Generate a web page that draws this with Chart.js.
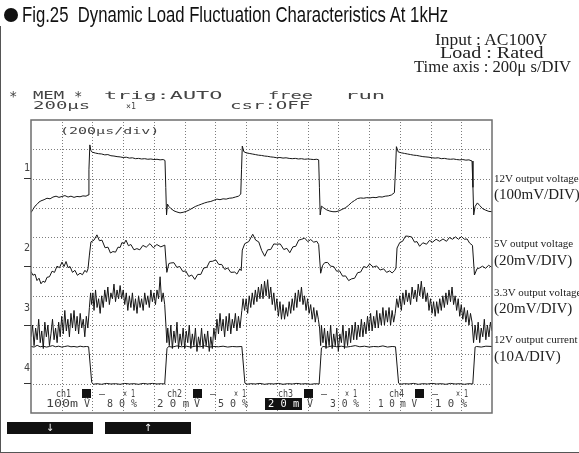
<!DOCTYPE html>
<html><head><meta charset="utf-8">
<script src="https://cdn.jsdelivr.net/npm/chart.js@4.4.1/dist/chart.umd.min.js"></script>
<style>
html,body{margin:0;padding:0;background:#fff;}
#wrap{position:relative;width:579px;height:453px;overflow:hidden;background:#fff;}
#c{position:absolute;left:0;top:0;}
.t{position:absolute;white-space:pre;line-height:1;transform-origin:0 50%;}
.mono{font-family:"DejaVu Sans Mono",monospace;color:#444;}
.serif{font-family:"Liberation Serif","DejaVu Serif",serif;color:#222;}
.sans{font-family:"Liberation Sans",Arial,sans-serif;color:#111;}
.bar{position:absolute;background:#111;}
.arrow{position:absolute;left:0;right:0;top:0;text-align:center;color:#fff;font-family:"DejaVu Sans",sans-serif;font-size:10px;line-height:12px;transform:rotate(0.01deg);opacity:0.99;}
</style></head><body>
<div id="wrap">
<canvas id="c" width="579" height="453"></canvas>
</div>
<script>
// ---- data (time in microseconds, amplitude in screen divisions) ----
const timeTicks = [0,200,400,600,800,1000,1200,1400,1600,1800,2000,2200,2400,2600,2800,3000];
const divTicks = [0,1,2,3,4,5,6,7,8,9,10];
const channelNames = ["12V output voltage","5V output voltage","3.3V output voltage","12V output current"];
const channelScales = ["(100mV/DIV)","(20mV/DIV)","(20mV/DIV)","(10A/DIV)"];
const groundLevels = [8,5,3,1];

const ch1Points = [[0,6.84],[13,6.95],[26,7.06],[39,7.12],[52,7.20],[65,7.24],[85,7.28],[104,7.33],[124,7.31],[143,7.37],[163,7.40],[182,7.36],[202,7.39],[221,7.42],[241,7.37],[260,7.40],[280,7.36],[299,7.39],[319,7.38],[338,7.41],[358,7.40],[371,7.44],[377,8.30],[383,9.15],[390,8.95],[400,8.90],[420,8.87],[440,8.85],[460,8.84],[480,8.81],[500,8.82],[520,8.78],[540,8.77],[560,8.75],[580,8.74],[600,8.72],[620,8.73],[640,8.70],[660,8.71],[680,8.68],[700,8.69],[720,8.67],[740,8.68],[760,8.66],[780,8.67],[800,8.65],[820,8.66],[840,8.64],[860,8.65],[872,8.62],[877,7.70],[882,6.76],[888,7.13],[897,7.05],[910,6.98],[930,6.90],[950,6.86],[970,6.83],[990,6.85],[1010,6.88],[1030,6.93],[1050,6.99],[1070,7.05],[1090,7.09],[1110,7.13],[1130,7.17],[1150,7.20],[1170,7.22],[1190,7.26],[1210,7.30],[1230,7.28],[1250,7.31],[1270,7.30],[1290,7.33],[1310,7.34],[1330,7.37],[1350,7.40],[1365,7.47],[1370,8.30],[1375,9.11],[1385,8.92],[1400,8.88],[1420,8.86],[1440,8.84],[1460,8.82],[1480,8.80],[1500,8.79],[1520,8.77],[1540,8.76],[1560,8.74],[1580,8.73],[1600,8.71],[1620,8.72],[1640,8.70],[1660,8.71],[1680,8.69],[1700,8.68],[1720,8.69],[1740,8.67],[1760,8.68],[1780,8.66],[1800,8.67],[1820,8.66],[1840,8.65],[1860,8.66],[1872,8.64],[1877,7.70],[1882,6.76],[1890,7.06],[1905,7.00],[1925,6.93],[1945,6.89],[1965,6.87],[1985,6.87],[2005,6.90],[2025,6.95],[2045,7.00],[2065,7.08],[2085,7.18],[2105,7.25],[2125,7.32],[2145,7.34],[2165,7.33],[2185,7.35],[2205,7.34],[2225,7.36],[2245,7.35],[2265,7.38],[2285,7.37],[2305,7.40],[2325,7.41],[2345,7.44],[2365,7.52],[2372,8.30],[2378,9.09],[2390,8.91],[2410,8.88],[2430,8.86],[2450,8.84],[2470,8.82],[2490,8.80],[2510,8.79],[2530,8.77],[2550,8.75],[2570,8.74],[2590,8.73],[2610,8.71],[2630,8.70],[2650,8.71],[2670,8.68],[2690,8.69],[2710,8.67],[2730,8.66],[2750,8.67],[2770,8.65],[2790,8.64],[2810,8.65],[2830,8.63],[2850,8.64],[2870,8.60],[2876,7.70],[2881,6.76],[2890,7.05],[2905,7.17],[2920,7.08],[2940,6.97],[2960,6.92],[2980,6.88],[3000,6.87]];

const ch2Points = [[0,4.83],[13,4.70],[26,4.74],[39,4.52],[52,4.60],[65,4.41],[78,4.50],[91,4.46],[104,4.63],[120,4.65],[137,4.84],[153,4.80],[169,5.01],[185,4.96],[202,5.15],[215,5.00],[228,5.17],[241,4.96],[254,5.00],[270,4.80],[286,4.87],[302,4.70],[319,4.77],[335,4.72],[351,4.87],[362,4.80],[371,4.92],[380,5.39],[390,5.84],[410,5.90],[429,6.08],[445,5.88],[462,5.90],[482,5.64],[501,5.66],[517,5.46],[533,5.51],[550,5.49],[566,5.66],[580,5.65],[592,5.82],[605,5.77],[618,5.90],[634,5.71],[650,5.75],[670,5.57],[689,5.61],[708,5.57],[728,5.72],[750,5.66],[774,5.78],[796,5.64],[819,5.75],[845,5.67],[871,5.73],[878,5.22],[884,4.80],[897,5.10],[910,5.12],[930,5.13],[949,4.97],[968,5.00],[988,4.83],[1007,4.85],[1027,4.66],[1046,4.71],[1066,4.56],[1085,4.73],[1105,4.73],[1124,4.95],[1144,4.97],[1163,5.17],[1183,5.18],[1202,5.23],[1222,5.07],[1241,5.07],[1261,4.90],[1280,4.95],[1300,4.80],[1326,4.81],[1340,4.74],[1359,4.92],[1368,4.86],[1375,5.56],[1391,5.78],[1417,5.85],[1443,6.10],[1462,5.90],[1482,5.84],[1501,5.55],[1521,5.35],[1540,5.57],[1560,5.58],[1580,5.77],[1599,5.76],[1622,5.77],[1645,5.58],[1665,5.62],[1684,5.47],[1704,5.67],[1723,5.69],[1742,5.90],[1762,5.93],[1781,5.97],[1801,5.85],[1820,5.92],[1840,5.83],[1860,5.86],[1872,5.75],[1885,4.77],[1898,5.04],[1911,5.13],[1930,5.14],[1950,5.01],[1970,5.00],[1989,4.84],[2008,4.85],[2028,4.67],[2047,4.68],[2067,4.52],[2087,4.58],[2106,4.60],[2126,4.79],[2145,4.81],[2165,5.00],[2185,4.96],[2204,5.09],[2227,4.98],[2249,5.02],[2272,4.88],[2295,4.92],[2314,4.80],[2334,4.85],[2350,4.78],[2366,4.86],[2375,4.95],[2382,5.63],[2400,5.82],[2418,5.86],[2438,6.04],[2457,6.03],[2477,6.01],[2496,5.83],[2512,5.85],[2529,5.69],[2550,5.81],[2574,5.76],[2593,5.89],[2613,5.83],[2636,5.93],[2659,5.86],[2681,5.94],[2704,5.86],[2723,5.99],[2743,5.93],[2762,6.01],[2782,5.93],[2801,6.02],[2821,5.93],[2838,5.94],[2854,5.80],[2873,5.72],[2886,4.71],[2902,4.92],[2919,4.95],[2938,5.01],[2958,4.94],[2978,5.04],[2997,4.98]];

const ch3Points = [[0,2.6],[10,3.0],[20,2.3],[30,2.9],[40,2.5],[50,3.2],[60,2.4],[70,2.8],[80,2.2],[90,3.1],[100,2.6],[110,3.0],[120,2.3],[130,2.7],[140,3.2],[150,2.5],[160,2.9],[170,2.4],[180,3.1],[190,2.6],[200,3.3],[210,2.7],[220,3.5],[230,2.8],[240,3.2],[250,2.6],[260,3.4],[270,2.9],[280,3.5],[290,2.8],[300,3.3],[310,2.7],[320,3.4],[330,2.9],[340,3.2],[350,2.6],[360,3.3],[370,2.9],[380,3.6],[388,4.1],[395,3.7],[403,4.1],[410,3.5],[420,4.2],[430,3.6],[440,3.9],[450,3.4],[460,4.0],[470,3.6],[480,4.2],[490,3.8],[500,4.3],[510,3.7],[520,4.1],[530,3.9],[540,4.4],[550,3.8],[560,4.2],[570,3.9],[580,4.35],[590,3.9],[600,4.2],[610,3.7],[620,4.1],[630,3.5],[640,4.0],[650,3.6],[660,4.1],[670,3.5],[680,3.9],[690,3.4],[700,4.0],[710,3.6],[720,3.9],[730,3.5],[740,4.1],[750,3.7],[760,4.0],[770,3.6],[780,4.2],[790,3.8],[800,4.1],[810,3.7],[820,4.2],[830,3.9],[840,4.65],[850,3.8],[860,4.1],[870,3.7],[878,3.0],[884,2.4],[890,2.9],[900,2.3],[910,3.0],[920,2.2],[930,2.8],[940,2.4],[950,3.1],[960,2.2],[970,2.7],[980,2.3],[990,2.9],[1000,2.2],[1010,2.8],[1020,2.4],[1030,3.0],[1040,2.2],[1050,2.7],[1060,2.3],[1070,2.9],[1080,2.1],[1090,2.6],[1100,2.3],[1110,2.9],[1120,2.2],[1130,2.7],[1140,2.3],[1150,2.8],[1160,2.1],[1170,2.6],[1180,2.2],[1190,2.9],[1200,2.5],[1210,3.2],[1220,2.7],[1230,3.4],[1240,2.8],[1250,3.2],[1260,2.6],[1270,3.3],[1280,2.8],[1290,3.4],[1300,2.7],[1310,3.2],[1320,2.9],[1330,3.4],[1340,2.8],[1350,3.3],[1360,2.9],[1372,3.5],[1380,3.9],[1390,3.5],[1400,3.9],[1410,3.4],[1420,4.0],[1430,3.6],[1440,4.1],[1450,3.7],[1460,4.2],[1470,3.8],[1480,4.3],[1490,3.9],[1500,4.4],[1510,3.9],[1520,4.5],[1530,4.0],[1540,4.55],[1550,3.9],[1560,4.3],[1570,3.7],[1580,4.1],[1590,3.5],[1600,3.9],[1610,3.3],[1620,3.8],[1630,3.2],[1640,3.7],[1650,3.2],[1660,3.6],[1670,3.3],[1680,3.8],[1690,3.4],[1700,3.9],[1710,3.5],[1720,4.1],[1730,3.6],[1740,4.2],[1750,3.8],[1760,4.3],[1770,3.7],[1780,4.0],[1790,3.5],[1800,3.9],[1810,3.4],[1820,3.7],[1830,3.2],[1840,3.6],[1850,3.1],[1860,3.5],[1870,3.2],[1878,2.9],[1885,2.3],[1890,3.0],[1900,2.4],[1910,2.9],[1920,2.2],[1930,2.8],[1940,2.3],[1950,3.0],[1960,2.2],[1970,2.7],[1980,2.3],[1990,2.9],[2000,2.1],[2010,2.7],[2020,2.4],[2030,3.0],[2040,2.2],[2050,2.8],[2060,2.3],[2070,2.9],[2080,2.4],[2090,3.0],[2100,2.5],[2110,3.1],[2120,2.5],[2130,3.0],[2140,2.6],[2150,3.2],[2160,2.6],[2170,3.1],[2180,2.7],[2190,3.3],[2200,2.8],[2210,3.4],[2220,2.8],[2230,3.3],[2240,2.9],[2250,3.5],[2260,2.9],[2270,3.4],[2280,3.0],[2290,3.6],[2300,3.0],[2310,3.5],[2320,3.1],[2330,3.6],[2340,3.0],[2350,3.5],[2360,3.1],[2370,3.4],[2380,3.9],[2390,3.6],[2400,4.0],[2410,3.5],[2420,4.1],[2430,3.7],[2440,4.2],[2450,3.8],[2460,4.1],[2470,3.7],[2480,4.3],[2490,3.9],[2500,4.2],[2510,3.8],[2520,4.4],[2530,4.0],[2540,4.5],[2550,3.9],[2560,4.3],[2570,3.8],[2580,4.1],[2590,3.5],[2600,3.9],[2610,3.4],[2620,3.8],[2630,3.3],[2640,3.8],[2650,3.4],[2660,3.9],[2670,3.5],[2680,4.0],[2690,3.6],[2700,4.1],[2710,3.7],[2720,4.2],[2730,3.8],[2740,4.3],[2750,3.7],[2760,4.0],[2770,3.5],[2780,3.9],[2790,3.3],[2800,3.7],[2810,3.2],[2820,3.6],[2830,3.1],[2840,3.5],[2850,3.0],[2860,3.4],[2870,3.1],[2880,2.4],[2890,3.0],[2900,2.5],[2910,3.1],[2920,2.4],[2930,2.9],[2940,2.6],[2950,3.2],[2960,2.5],[2970,3.0],[2980,2.6],[2990,3.1],[3000,2.8]];

const ch4Points = [[0,2.27],[20,2.25],[40,2.31],[60,2.26],[80,2.28],[100,2.25],[120,2.27],[140,2.30],[160,2.26],[180,2.28],[200,2.25],[220,2.27],[240,2.29],[260,2.26],[280,2.27],[300,2.25],[320,2.28],[340,2.26],[360,2.27],[375,2.26],[395,1.05],[405,0.98],[430,1.00],[460,0.98],[490,1.01],[520,0.99],[550,1.00],[580,0.98],[610,1.01],[640,0.99],[670,1.00],[700,0.98],[730,1.01],[760,0.99],[790,1.01],[820,0.99],[850,1.00],[870,0.99],[885,2.20],[895,2.27],[920,2.25],[950,2.29],[980,2.26],[1010,2.28],[1040,2.25],[1070,2.28],[1100,2.26],[1130,2.29],[1160,2.25],[1190,2.27],[1220,2.26],[1250,2.28],[1280,2.25],[1310,2.27],[1340,2.26],[1372,2.27],[1392,1.02],[1402,0.98],[1430,1.00],[1460,0.99],[1490,1.01],[1520,0.98],[1550,1.00],[1580,0.99],[1610,1.01],[1640,0.98],[1670,1.00],[1700,0.99],[1730,1.01],[1760,0.99],[1790,1.00],[1820,0.98],[1850,1.00],[1875,0.99],[1890,2.22],[1900,2.27],[1930,2.25],[1960,2.29],[1990,2.26],[2020,2.28],[2050,2.25],[2080,2.27],[2110,2.30],[2140,2.26],[2170,2.28],[2200,2.25],[2230,2.27],[2260,2.26],[2290,2.29],[2320,2.25],[2350,2.27],[2372,2.26],[2392,1.02],[2402,0.98],[2430,1.00],[2460,0.99],[2490,1.01],[2520,0.98],[2550,1.00],[2580,0.99],[2610,1.01],[2640,0.99],[2670,1.00],[2700,0.98],[2730,1.01],[2760,0.99],[2790,1.00],[2820,0.98],[2850,1.00],[2875,0.99],[2890,2.25],[2900,2.27],[2930,2.25],[2960,2.28],[3000,2.27]];

// ---- chart ----
const toXY = pts => pts.map(p => ({x:p[0], y:p[1]}));
const traceStyle = {borderColor:'#151515', borderWidth:1, pointRadius:0, tension:0, fill:false};

// dotted graticule drawn at the scale tick values, plus the solid screen frame
const graticulePlugin = {
  id:'graticule',
  beforeDatasetsDraw(chart){
    const c = chart.ctx, a = chart.chartArea, xs = chart.scales.x, ys = chart.scales.y;
    c.save();
    c.fillStyle = '#7c7c7c';
    timeTicks.slice(1, -1).forEach(t => {
      const px = Math.round(xs.getPixelForValue(t));
      for (let yy = Math.ceil(a.top) + 2; yy < a.bottom - 1; yy += 3) c.fillRect(px, yy, 1, 1);
    });
    divTicks.slice(1, -1).forEach(v => {
      const py = Math.round(ys.getPixelForValue(v));
      for (let xx = Math.ceil(a.left) + 2; xx < a.right - 1; xx += 3) c.fillRect(xx, py, 1, 1);
    });
    c.restore();
  },
  afterDraw(chart){
    const a = chart.chartArea, c = chart.ctx;
    c.save();
    c.strokeStyle = '#6e6e6e'; c.lineWidth = 1.5;
    c.strokeRect(a.left, a.top, a.right - a.left, a.bottom - a.top);
    c.restore();
  }
};

new Chart(document.getElementById('c'), {
  type:'line',
  data:{datasets:[
    Object.assign({label:channelNames[0], data:toXY(ch1Points)}, traceStyle),
    Object.assign({label:channelNames[1], data:toXY(ch2Points)}, traceStyle),
    Object.assign({label:channelNames[2], data:toXY(ch3Points)}, traceStyle),
    Object.assign({label:channelNames[3], data:toXY(ch4Points)}, traceStyle)
  ]},
  options:{
    responsive:false, animation:false, devicePixelRatio:1,
    layout:{padding:{left:31, top:120, right:87, bottom:40}},
    plugins:{legend:{display:false}, tooltip:{enabled:false}},
    scales:{
      x:{type:'linear', display:false, min:timeTicks[0], max:timeTicks[timeTicks.length-1]},
      y:{type:'linear', display:false, min:divTicks[0], max:divTicks[divTicks.length-1]}
    }
  },
  plugins:[graticulePlugin]
});

// ---- texts ----
const wrap = document.getElementById('wrap');
function addText(txt, x, y, cls, size, w, extra){
  const d = document.createElement('div');
  d.className = 't ' + cls;
  d.textContent = txt;
  d.style.left = x + 'px';
  d.style.fontSize = size + 'px';
  d.style.top = (y - size/2) + 'px';
  if (extra) Object.assign(d.style, extra);
  wrap.appendChild(d);
  if (w) { const s = w / d.offsetWidth; d.style.transform = 'scaleX(' + s + ')'; }
  return d;
}
// title
const dot = document.createElement('div');
Object.assign(dot.style,{position:'absolute',left:'4px',top:'8px',width:'14px',height:'14px',borderRadius:'50%',background:'#111'});
wrap.appendChild(dot);
addText('Fig.25  Dynamic Load Fluctuation Characteristics At 1kHz', 22, 15, 'sans', 22, 426);
// conditions
function centered(txt, cx, y, size, w){ const d = addText(txt, 0, y, 'serif', size, w); d.style.left = (cx - w/2) + 'px'; return d; }
centered('Input : AC100V', 491, 40, 16, 112);
centered('Load : Rated', 492, 53, 16, 104);
centered('Time axis : 200\u03bc s/DIV', 492, 67, 16, 157);
// outer border
const lb = document.createElement('div'); Object.assign(lb.style,{position:'absolute',left:'0',top:'26px',width:'1px',height:'427px',background:'#555'}); wrap.appendChild(lb);
const bb = document.createElement('div'); Object.assign(bb.style,{position:'absolute',left:'0',top:'452px',width:'579px',height:'1px',background:'#555'}); wrap.appendChild(bb);
// scope header
addText('*', 9, 96, 'mono', 14);
addText('MEM', 33, 96, 'mono', 10, 31);
addText('*', 74, 96, 'mono', 14);
addText('trig:AUTO', 104, 96, 'mono', 10, 118);
addText('free', 268, 96, 'mono', 10, 45);
addText('run', 345, 96, 'mono', 10, 40);
addText('200\u03bcs', 33, 106, 'mono', 10, 57);
addText('\u00d71', 126, 106, 'mono', 9, 10);
addText('csr:OFF', 230, 106, 'mono', 10, 80);
addText('(200\u03bcs/div)', 60, 131, 'mono', 9, 100);
// channel markers
const markerY = [168, 248, 308, 368];
for (let i = 0; i < 4; i++) {
  addText(String(i+1), 24, markerY[i], 'mono', 10);
  const yy = 120 + (10 - groundLevels[i]) * 29.3;
  const m = document.createElement('div'); Object.assign(m.style,{position:'absolute',left:'24px',top:(yy-0.5)+'px',width:'7px',height:'1px',background:'#333'}); wrap.appendChild(m);
}
// right labels
const nameY = [178, 243, 292, 339];
const scaleY = [194, 260, 308, 356];
for (let i = 0; i < 4; i++) {
  addText(channelNames[i], 494, nameY[i], 'serif', 11);
  addText(channelScales[i], 494, scaleY[i], 'serif', 15);
}
// bottom channel info
const row1 = [['ch1',56],['ch2',167],['ch3',278],['ch4',389]];
row1.forEach((r,i) => {
  addText(r[0], r[1], 394, 'mono', 10, 15);
  const sq = document.createElement('div'); Object.assign(sq.style,{position:'absolute',left:(r[1]+26)+'px',top:'389px',width:'9px',height:'9px',background:'#111'}); wrap.appendChild(sq);
  addText('\u2013', r[1]+43, 394, 'mono', 10);
  addText('\u00d7 1', r[1]+67, 394, 'mono', 10, 12);
});
const row2 = [['100m',46,32],['V\u0303',84,0],['8 0 %',107,30],['2 0 m',157,32],['V\u0303',194,0],['5 0 %',218,30],['V\u0303',307,0],['3 0 %',330,29],['1 0 m V',378,39],['1 0 %',435,32]];
row2.forEach(r => addText(r[0], r[1], 404, 'mono', 10, r[2] || null));
const hl = document.createElement('div'); Object.assign(hl.style,{position:'absolute',left:'265px',top:'398px',width:'37px',height:'12px',background:'#111'}); wrap.appendChild(hl);
addText('2 0 m', 268, 404, 'mono', 10, 31, {color:'#fff', opacity:'0.99'});
// soft keys
function softKey(x, sym){
  const b = document.createElement('div'); b.className = 'bar';
  Object.assign(b.style,{left:x+'px',top:'422px',width:'86px',height:'12px'});
  const s = document.createElement('div'); s.className = 'arrow'; s.textContent = sym; b.appendChild(s);
  wrap.appendChild(b);
}
softKey(7, '\u2193');
softKey(105, '\u2191');
</script>
</body></html>
